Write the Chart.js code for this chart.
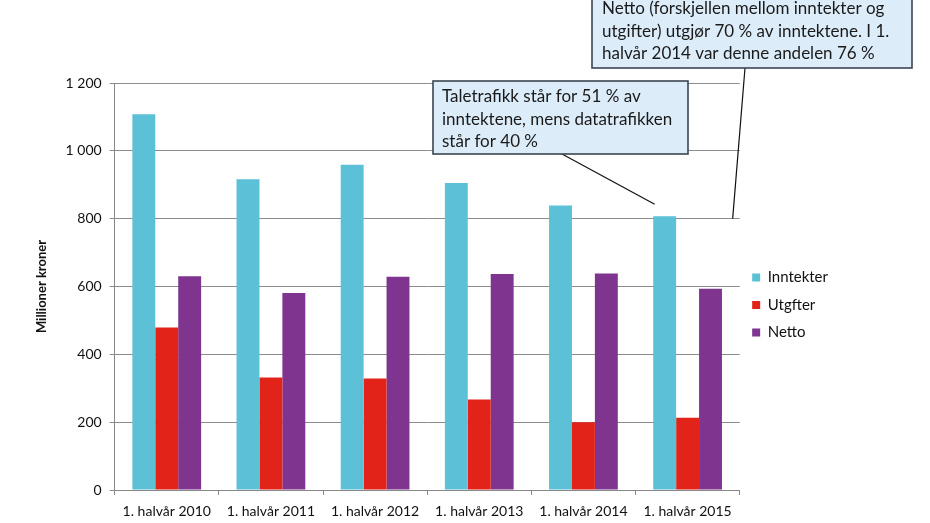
<!DOCTYPE html>
<html>
<head>
<meta charset="utf-8">
<script src="https://cdn.jsdelivr.net/npm/chart.js@4.4.0/dist/chart.umd.min.js"></script>
<style>
  body { margin: 0; background: #fff; }
  #wrap { position: relative; width: 930px; height: 523px; }
</style>
</head>
<body>
<div id="wrap"><canvas id="myChart"></canvas></div>
<script>
const categories = ['1. halvår 2010', '1. halvår 2011', '1. halvår 2012', '1. halvår 2013', '1. halvår 2014', '1. halvår 2015'];
const inntekter = [1108, 916, 959, 905, 839, 807];
const utgifter = [479, 332, 329, 267, 200, 213];
const netto = [630, 581, 629, 637, 638, 593];
const yTicks = [0, 200, 400, 600, 800, 1000, 1200];

const callout1 = ['Netto (forskjellen mellom inntekter og', 'utgifter) utgjør 70 % av inntektene. I 1.', 'halvår 2014 var denne andelen 76 %'];
const callout2 = ['Taletrafikk står for 51 % av', 'inntektene, mens datatrafikken', 'står for 40 %'];

// boxes with leader lines, drawn on top of the chart
const calloutPlugin = {
  id: 'callouts',
  afterDraw(chart) {
    const ctx = chart.ctx;
    const area = chart.chartArea;
    const y = chart.scales.y;
    const bar = chart.getDatasetMeta(0).data[5];

    function box(x, top, w, h, lines, tx, ty, lead) {
      ctx.save();
      ctx.strokeStyle = '#111';
      ctx.lineWidth = 1.2;
      ctx.beginPath();
      ctx.moveTo(lead[0], lead[1]);
      ctx.lineTo(lead[2], lead[3]);
      ctx.stroke();
      ctx.fillStyle = '#dcecf9';
      ctx.fillRect(x, top, w, h);
      ctx.strokeStyle = '#3b4650';
      ctx.lineWidth = 1.6;
      ctx.strokeRect(x, top, w, h);
      ctx.fillStyle = '#1a1a1a';
      ctx.font = '17px Lato';
      ctx.textBaseline = 'middle';
      lines.forEach((l, i) => ctx.fillText(l, tx, ty + i * 22.5));
      ctx.restore();
    }

    box(592, -10, 320, 78, callout1, 602, 9, [745, 68, area.right - 7, y.getPixelForValue(800)]);
    box(433, 81, 255, 73, callout2, 442, 97, [562, 154, bar.x - 10, bar.y - 12]);
  }
};

new Chart(document.getElementById('myChart'), {
  type: 'bar',
  data: {
    labels: categories,
    datasets: [
      { label: 'Inntekter', data: inntekter, backgroundColor: '#5cc1d6' },
      { label: 'Utgfter', data: utgifter, backgroundColor: '#e2231a' },
      { label: 'Netto', data: netto, backgroundColor: '#7f3590' }
    ]
  },
  options: {
    responsive: true,
    maintainAspectRatio: false,
    animation: false,
    datasets: { bar: { categoryPercentage: 0.66, barPercentage: 1.0 } },
    layout: { padding: { left: 30, top: 83, right: 92, bottom: -4 } },
    scales: {
      x: {
        grid: { display: true, drawOnChartArea: false, drawTicks: true, tickLength: 5, color: '#888' },
        border: { color: '#888' },
        ticks: { color: '#111', font: { family: 'Lato', size: 14, lineHeight: 1 }, padding: 9, maxRotation: 0 }
      },
      y: {
        min: 0,
        max: 1200,
        afterBuildTicks(scale) { scale.ticks = yTicks.map(v => ({ value: v })); },
        grid: { color: '#8c8c8c', tickLength: 5 },
        border: { color: '#888' },
        ticks: {
          color: '#111',
          font: { family: 'Lato', size: 14 },
          padding: 8,
          callback: v => String(v).replace(/\B(?=(\d{3})+(?!\d))/g, ' ')
        },
        title: { display: true, text: 'Millioner kroner', color: '#111', font: { family: 'Lato', size: 13, weight: 'bold' }, padding: { bottom: 8 } }
      }
    },
    plugins: {
      legend: {
        position: 'right',
        labels: { boxWidth: 8, boxHeight: 8, padding: 12.5, color: '#111', font: { family: 'Lato', size: 15 } }
      },
      tooltip: { enabled: false },
      title: { display: false }
    }
  },
  plugins: [calloutPlugin]
});
</script>
</body>
</html>
